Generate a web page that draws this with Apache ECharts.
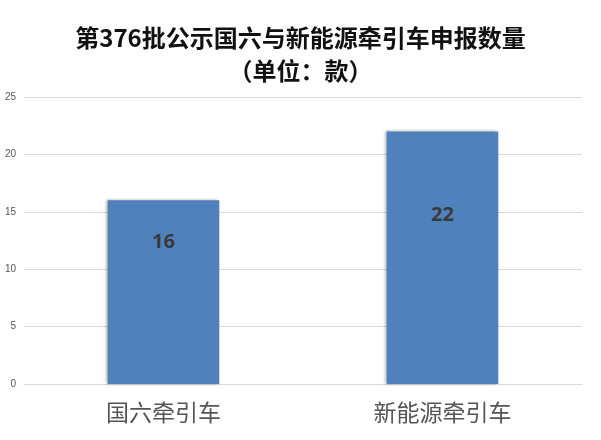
<!DOCTYPE html>
<html>
<head>
<meta charset="utf-8">
<script src="https://cdn.jsdelivr.net/npm/echarts@6/dist/echarts.min.js"></script>
<style>
html, body { margin: 0; padding: 0; background: #fff; }
#main { width: 601px; height: 440px; }
</style>
</head>
<body>
<div id="main"></div>
<script>
var categories = ['国六牵引车', '新能源牵引车'];
var values = [16, 22];
var labelDist = [32, 74];

var myChart = echarts.init(document.getElementById('main'));

var option = {
    backgroundColor: '#fff',
    textStyle: { fontFamily: 'Noto Sans CJK SC' },
    title: {
        text: '第376批公示国六与新能源牵引车申报数量\n（单位：款）',
        left: 'center',
        top: 16,
        textStyle: {
            fontSize: 24,
            fontWeight: 'bold',
            color: '#111',
            lineHeight: 33,
            fontFamily: 'Noto Sans CJK SC'
        }
    },
    grid: {
        left: 24,
        right: 19,
        top: 97,
        bottom: 56
    },
    xAxis: {
        type: 'category',
        data: categories,
        axisTick: { show: false },
        axisLine: { lineStyle: { color: '#d9d9d9' } },
        axisLabel: {
            fontSize: 23,
            color: '#555',
            margin: 17
        }
    },
    yAxis: {
        type: 'value',
        min: 0,
        max: 25,
        interval: 5,
        axisLine: { show: false },
        axisTick: { show: false },
        splitLine: { lineStyle: { color: '#d9d9d9' } },
        axisLabel: {
            fontSize: 10,
            color: '#555',
            margin: 8,
            fontFamily: 'Liberation Sans'
        }
    },
    series: [
        {
            type: 'bar',
            barWidth: '40%',
            itemStyle: {
                color: '#4F81BD',
                shadowColor: 'rgba(0,0,0,0.35)',
                shadowBlur: 3,
                shadowOffsetX: -2
            },
            data: values.map(function (v, i) {
                return {
                    value: v,
                    label: {
                        show: true,
                        position: 'insideTop',
                        distance: labelDist[i],
                        fontSize: 20,
                        fontWeight: 'bold',
                        color: '#3a3a3a',
                        fontFamily: 'Open Sans'
                    }
                };
            })
        }
    ]
};
myChart.setOption(option);
</script>
</body>
</html>
